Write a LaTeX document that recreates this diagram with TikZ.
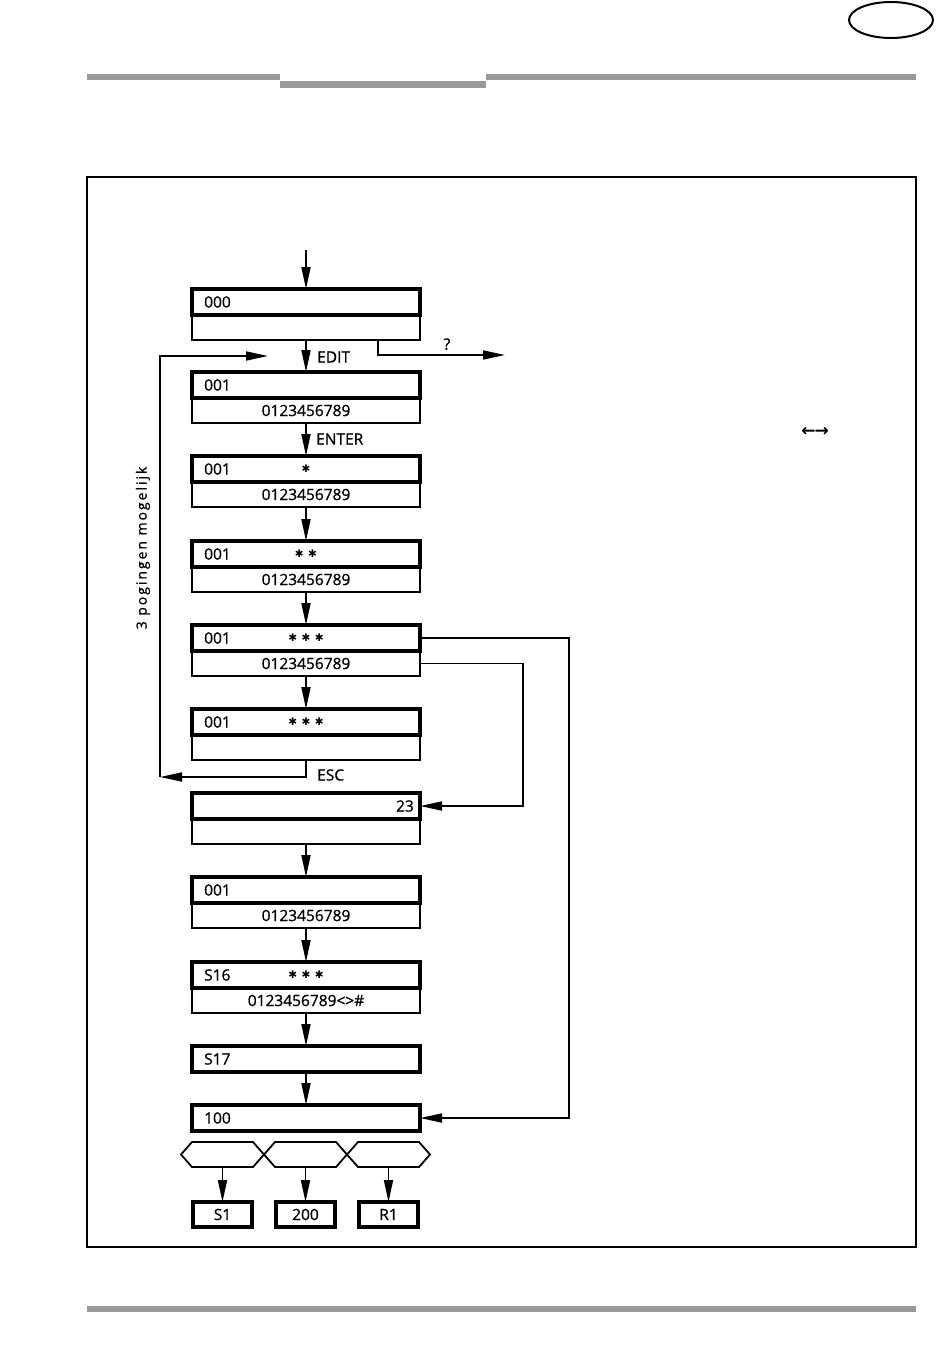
\documentclass[tikz,border=0pt]{standalone}
\usepackage{fontspec}
\setmainfont{Open Sans}[FakeBold=0.9]
\newfontfamily\dejavu{DejaVu Sans}
\newfontfamily\dejavub{DejaVu Sans Bold}
\usetikzlibrary{arrows.meta,calc}
\tikzset{
  conn/.style={line width=1.8pt,-{Triangle[length=22pt,width=9pt]}},
  plain/.style={line width=1.8pt},
  uprow/.style={draw,line width=3.5pt,minimum width=228pt,minimum height=26pt,inner sep=0pt,outer sep=0pt},
  lowrow/.style={draw,line width=1.8pt,minimum width=228pt,minimum height=25pt,inner sep=0pt,outer sep=0pt,font=\fontsize{15.5}{18}\selectfont},
  smallbox/.style={draw,line width=3.5pt,minimum width=59pt,minimum height=25pt,inner sep=0pt,outer sep=0pt,font=\fontsize{15.5}{18}\selectfont},
  lbl/.style={inner sep=0pt,font=\fontsize{15.5}{18}\selectfont},
  starlbl/.style={inner sep=0pt,font=\dejavu\fontsize{10.5}{12}\selectfont},
  bar/.style={fill=black!40,draw=none},
  hexa/.style={line width=1.8pt,line join=miter},
}
\newcommand\dbox[5]{%
  \node[lowrow,anchor=north west] (#1b) at (192,#2+26) {#5};
  \node[uprow,anchor=north west] (#1t) at (192,#2) {};
  \node[lbl,anchor=west] at ($(#1t.west)+(12,0)$) {#3};
  \node[starlbl] at (#1t.center) {#4};
}
\newcommand\hexagonat[2]{% #1 left tip x, #2 name
  \draw[hexa] (#1,1154.5) -- (#1+11,1142) -- (#1+72,1142) -- (#1+83,1154.5) -- (#1+72,1167) -- (#1+11,1167) -- cycle;
  \coordinate (#2) at (#1+41.5,1167);
}
\begin{document}
\begin{tikzpicture}[x=1pt,y=-1pt]
\useasboundingbox (0,0) rectangle (950,1365);
% header
\draw[line width=2pt] (891,20) ellipse [x radius=42, y radius=18];
\fill[bar] (87,74) rectangle (280,80);
\fill[bar] (280,81) rectangle (486,88);
\fill[bar] (486,74) rectangle (916,80);
\fill[bar] (87,1306) rectangle (916,1312);
% frame
\draw[line width=1.2pt] (87,177) rectangle (916,1247);
% boxes
\dbox{a}{289}{000}{}{}
\dbox{b}{372}{001}{}{0123456789}
\dbox{c}{456}{001}{✱}{0123456789}
\dbox{d}{541}{001}{✱\hspace{4.5pt}✱}{0123456789}
\dbox{e}{625}{001}{✱\hspace{4.5pt}✱\hspace{4.5pt}✱}{0123456789}
\dbox{f}{709}{001}{✱\hspace{4.5pt}✱\hspace{4.5pt}✱}{}
\dbox{g}{793}{}{}{}
\node[lbl,anchor=east] at ($(gt.east)+(-6,0)$) {23};
\dbox{h}{877}{001}{}{0123456789}
\dbox{i}{962}{S16}{✱\hspace{4.5pt}✱\hspace{4.5pt}✱}{0123456789<>\#}
\node[uprow,anchor=north west] (j) at (192,1046) {};
\node[lbl,anchor=west] at ($(j.west)+(12,0)$) {S17};
\node[uprow,anchor=north west] (k) at (192,1105) {};
\node[lbl,anchor=west] at ($(k.west)+(12,0)$) {100};
% hexagons
\hexagonat{181}{h1}
\hexagonat{264}{h2}
\hexagonat{347}{h3}
\node[smallbox,anchor=north] (s1) at (222.5,1202) {S1};
\node[smallbox,anchor=north] (s2) at (305.5,1202) {200};
\node[smallbox,anchor=north] (s3) at (388.5,1202) {R1};
\draw[conn] (h1) -- (s1);
\draw[conn] (h2) -- (s2);
\draw[conn] (h3) -- (s3);
% main connectors
\coordinate (in) at ($(at.north)+(0,-39)$);
\draw[conn] (in) -- (at.north);
\draw[conn] (ab.south) -- (bt.north);
\node[lbl,anchor=west] at (317,357) {EDIT};
\coordinate (qend) at (505,355);
\draw[conn] ([xshift=72pt]ab.south) |- (qend);
\node[lbl,anchor=south] at (447,350) {?};
\draw[conn] (bb.south) -- (ct.north);
\node[lbl,anchor=west] at (316,439) {ENTER};
\draw[conn] (cb.south) -- (dt.north);
\draw[conn] (db.south) -- (et.north);
\draw[conn] (eb.south) -- (ft.north);
% ESC loop
\coordinate (lc) at (160,777);
\coordinate (loopend) at (268,356);
\draw[conn] (fb.south) |- (lc);
\draw[conn] (lc) |- (loopend);
\node[lbl,anchor=west] at (317,775) {ESC};
\node[lbl,rotate=90,font=\fontsize{14}{16}\selectfont\addfontfeature{LetterSpace=14}] at (143,548) {3 pogingen mogelijk};
% right connectors
\draw[conn] (et.east) -- ([xshift=149pt]et.east) |- (k.east);
\draw[conn] (eb.east) -- ([xshift=103pt]eb.east) |- (gt.east);
\draw[conn] (gb.south) -- (ht.north);
\draw[conn] (hb.south) -- (it.north);
\draw[conn] (ib.south) -- (j.north);
\draw[conn] (j.south) -- (k.north);
% stray symbol
\node[inner sep=0pt,font=\dejavub\fontsize{17}{19}\selectfont] at (815,432) {←\kern-1pt→};
\end{tikzpicture}
\end{document}
